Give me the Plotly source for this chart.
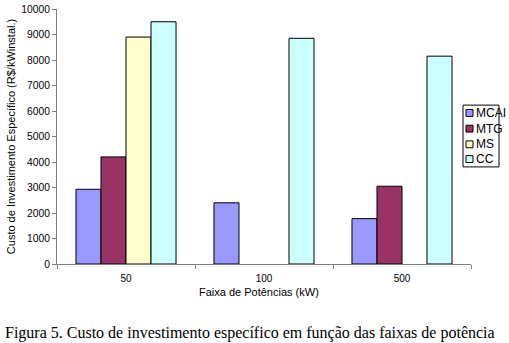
import plotly.graph_objects as go

categories = ["50", "100", "500"]
series_names = ["MCAI", "MTG", "MS", "CC"]
mcai = [2930, 2400, 1780]
mtg = [4200, None, 3050]
ms = [8900, None, None]
cc = [9500, 8850, 8150]
colors = ["#9999FF", "#993366", "#FFFFCC", "#CCFFFF"]
y_ticks = [0, 1000, 2000, 3000, 4000, 5000, 6000, 7000, 8000, 9000, 10000]
y_tick_labels = ["0", "1000", "2000", "3000", "4000", "5000", "6000", "7000", "8000", "9000", "10000"]

values = [mcai, mtg, ms, cc]
fig = go.Figure()
for name, vals, col in zip(series_names, values, colors):
    fig.add_trace(go.Bar(x=categories, y=vals, name=name, marker=dict(color=col, line=dict(color="#000000", width=1)), showlegend=False))

W, H = 509, 343
L, R, T, B = 57, 38, 4, 79
pw, ph = W - L - R, H - T - B

def px(x):
    return (x - L) / pw

def py(y):
    return (H - B - y) / ph

shapes = []
annotations = []
# legend box
shapes.append(dict(type="rect", xref="paper", yref="paper", x0=px(463), x1=px(499), y0=py(165), y1=py(102),
                   line=dict(color="#000000", width=1), fillcolor="white", layer="above"))
row_y = [110, 126, 142, 157]
for name, col, yy in zip(series_names, colors, row_y):
    shapes.append(dict(type="rect", xref="paper", yref="paper", x0=px(466), x1=px(473), y0=py(yy + 3.5), y1=py(yy - 3.5),
                       line=dict(color="#000000", width=1), fillcolor=col, layer="above"))
    annotations.append(dict(text=name, xref="paper", yref="paper", x=px(473.5), y=py(yy), xanchor="left", yanchor="middle",
                            showarrow=False, font=dict(family="Liberation Sans, Arial", size=12, color="#000")))

annotations.append(dict(text="Faixa de Potências (kW)", xref="paper", yref="paper", x=px(259), y=py(293),
                        xanchor="center", yanchor="middle", showarrow=False,
                        font=dict(family="Liberation Sans, Arial", size=11, color="#000")))
annotations.append(dict(text="Figura 5. Custo de investimento específico em função das faixas de potência", xref="paper", yref="paper",
                        x=px(249.5), y=py(334), xanchor="center", yanchor="middle", showarrow=False,
                        font=dict(family="Liberation Serif, Times New Roman", size=16, color="#000")))

fig.update_layout(
    width=W, height=H,
    margin=dict(l=L, r=R, t=T, b=B, pad=0),
    paper_bgcolor="white", plot_bgcolor="white",
    barmode="group", bargap=0.275, bargroupgap=0,
    shapes=shapes, annotations=annotations,
    font=dict(family="Liberation Sans, Arial", size=10, color="#000"),
)
fig.update_xaxes(showgrid=False, showline=True, linecolor="#808080", linewidth=1,
                 ticks="outside", tickson="boundaries", ticklen=4, tickcolor="#808080",
                 tickfont=dict(size=10), ticklabelstandoff=5, range=[-0.5, 2.5])
fig.update_yaxes(range=[0, 10000], tickmode="array", tickvals=y_ticks, ticktext=y_tick_labels,
                 showgrid=False, showline=True, linecolor="#808080", linewidth=1,
                 ticks="outside", ticklen=4, tickcolor="#808080", tickfont=dict(size=10.3), zeroline=False,
                 ticklabeloverflow="allow",
                 title=dict(text="Custo de Investimento Específico (R$/kWinstal.)", font=dict(size=11), standoff=3))

fig.write_html("out.html", config={"displayModeBar": False},
               post_script="document.body.style.margin='0';document.body.style.overflow='hidden';")
